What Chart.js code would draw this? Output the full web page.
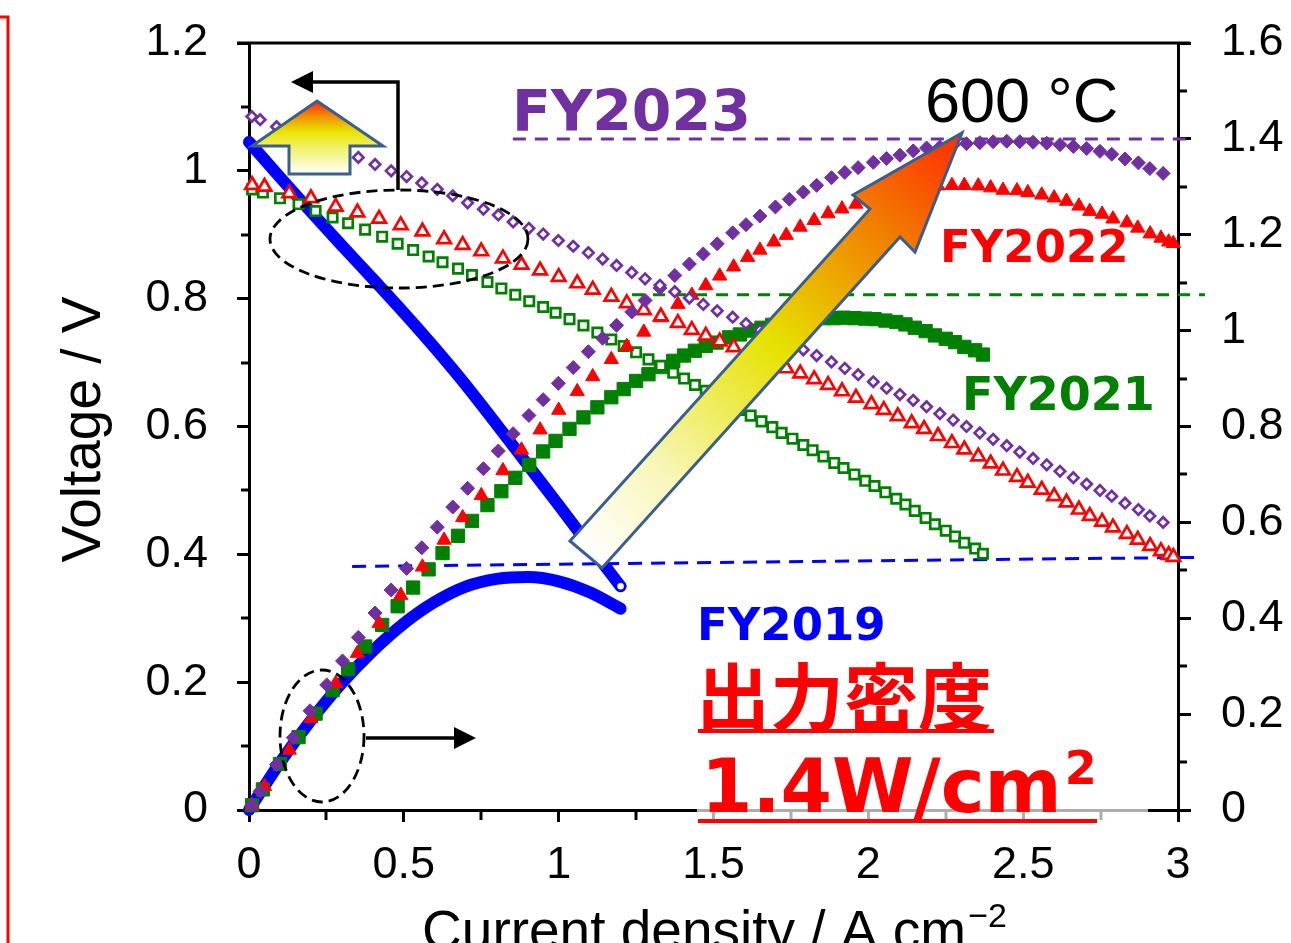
<!DOCTYPE html>
<html>
<head>
<meta charset="utf-8">
<script src="https://cdn.jsdelivr.net/npm/chart.js@4.4.1/dist/chart.umd.min.js"></script>
<style>
  body { margin: 0; background: #fff; }
  canvas { display: block; }
</style>
</head>
<body>
<canvas id="c" width="1291" height="943"></canvas>
<script>
// FY2019 (blue, drawn as thick lines)
const i19 = [0, 0.1, 0.2, 0.3, 0.4, 0.5, 0.6, 0.7, 0.8, 0.9, 1.0, 1.1, 1.2];
const v19 = [1.045, 0.99, 0.936, 0.883, 0.831, 0.778, 0.723, 0.665, 0.603, 0.54, 0.477, 0.413, 0.35];
const p19 = [0, 0.099, 0.187, 0.265, 0.332, 0.389, 0.434, 0.466, 0.482, 0.486, 0.477, 0.454, 0.42];

// FY2021 (green squares)
const i21 = [0.01,0.045,0.10,0.16,0.215,0.27,0.32,0.375,0.43,0.48,0.53,0.58,0.625,0.675,0.72,0.77,0.815,0.86,0.905,0.95,
  0.99,1.035,1.08,1.125,1.17,1.21,1.25,1.29,1.33,1.37,1.405,1.44,1.475,1.51,1.55,1.585,1.62,1.655,1.69,1.72,
  1.755,1.79,1.82,1.855,1.89,1.92,1.955,1.99,2.02,2.055,2.09,2.12,2.15,2.185,2.215,2.25,2.28,2.31,2.345,2.37];
const v21 = [0.971,0.966,0.957,0.948,0.937,0.927,0.918,0.908,0.897,0.886,0.876,0.866,0.857,0.847,0.837,0.826,0.816,0.806,0.796,0.787,
  0.778,0.768,0.758,0.747,0.736,0.726,0.716,0.705,0.695,0.684,0.675,0.665,0.656,0.646,0.636,0.626,0.617,0.608,0.599,0.590,
  0.581,0.571,0.563,0.553,0.543,0.535,0.525,0.515,0.507,0.497,0.487,0.478,0.468,0.457,0.447,0.437,0.428,0.418,0.409,0.401];
const p21 = [0.010,0.043,0.096,0.152,0.201,0.250,0.294,0.341,0.386,0.425,0.464,0.502,0.536,0.572,0.603,0.636,0.665,0.693,0.720,0.748,
  0.770,0.795,0.819,0.840,0.861,0.878,0.895,0.909,0.924,0.937,0.948,0.958,0.968,0.975,0.986,0.992,1.000,1.006,1.012,1.015,
  1.020,1.022,1.025,1.026,1.026,1.027,1.026,1.025,1.024,1.021,1.018,1.013,1.006,0.999,0.990,0.983,0.976,0.966,0.959,0.950];

// FY2022 (red triangles)
const i22 = [0.01,0.05,0.13,0.20,0.28,0.35,0.42,0.49,0.56,0.63,0.69,0.75,0.82,0.88,0.94,1.00,1.06,1.11,1.17,1.22,
  1.275,1.33,1.385,1.43,1.475,1.52,1.565,1.61,1.65,1.695,1.735,1.78,1.825,1.87,1.915,1.96,2.01,2.05,2.095,2.14,
  2.18,2.225,2.27,2.31,2.355,2.395,2.435,2.48,2.515,2.56,2.6,2.64,2.68,2.715,2.755,2.79,2.835,2.87,2.91,2.945,2.97,2.985];
const v22 = [0.978,0.975,0.965,0.957,0.944,0.935,0.925,0.915,0.905,0.893,0.884,0.874,0.863,0.853,0.844,0.834,0.824,0.814,0.803,0.793,
  0.782,0.772,0.762,0.751,0.742,0.733,0.724,0.716,0.708,0.699,0.691,0.683,0.674,0.665,0.655,0.645,0.635,0.626,0.616,0.605,
  0.596,0.585,0.574,0.564,0.553,0.542,0.531,0.521,0.512,0.501,0.491,0.481,0.470,0.460,0.451,0.442,0.432,0.423,0.413,0.405,0.399,0.396];
const p22 = [0.010,0.049,0.125,0.191,0.264,0.327,0.389,0.448,0.507,0.563,0.610,0.656,0.708,0.751,0.793,0.834,0.873,0.904,0.940,0.967,
  0.997,1.027,1.055,1.074,1.094,1.114,1.133,1.153,1.168,1.185,1.199,1.216,1.230,1.244,1.254,1.264,1.276,1.283,1.291,1.295,
  1.299,1.302,1.303,1.303,1.302,1.298,1.293,1.292,1.288,1.283,1.277,1.270,1.260,1.249,1.243,1.233,1.225,1.214,1.202,1.193,1.185,1.182];

// FY2023 (purple diamonds)
const i23 = [0.009,0.036,0.089,0.143,0.197,0.251,0.302,0.353,0.407,0.459,0.509,0.558,0.608,0.658,0.706,0.757,0.805,0.853,0.904,0.95,
  0.999,1.047,1.096,1.142,1.187,1.236,1.279,1.327,1.375,1.422,1.467,1.512,1.562,1.605,1.65,1.70,1.745,1.79,1.833,1.881,
  1.924,1.967,2.016,2.059,2.102,2.145,2.188,2.231,2.274,2.317,2.36,2.403,2.447,2.489,2.532,2.576,2.619,2.662,2.705,2.748,
  2.786,2.829,2.872,2.909,2.952];
const v23 = [1.085,1.080,1.069,1.059,1.049,1.039,1.030,1.021,1.010,1.000,0.991,0.981,0.971,0.961,0.950,0.940,0.931,0.920,0.910,0.901,
  0.891,0.882,0.872,0.862,0.852,0.841,0.831,0.821,0.811,0.801,0.791,0.781,0.771,0.761,0.751,0.740,0.730,0.720,0.711,0.701,
  0.691,0.681,0.670,0.660,0.650,0.641,0.631,0.620,0.610,0.600,0.590,0.580,0.570,0.560,0.550,0.540,0.530,0.520,0.510,0.500,
  0.491,0.480,0.470,0.460,0.450];
const p23 = [0.010,0.039,0.095,0.151,0.207,0.261,0.311,0.360,0.411,0.459,0.504,0.547,0.590,0.632,0.671,0.712,0.749,0.785,0.823,0.856,
  0.890,0.923,0.956,0.984,1.011,1.039,1.063,1.089,1.115,1.139,1.160,1.181,1.204,1.221,1.239,1.258,1.274,1.289,1.303,1.319,
  1.330,1.340,1.351,1.359,1.366,1.375,1.381,1.383,1.387,1.390,1.392,1.394,1.395,1.394,1.393,1.391,1.388,1.384,1.380,1.374,
  1.368,1.358,1.350,1.338,1.328];

// reference power levels marked with dashed lines [x from, x to, W/cm2 from, W/cm2 to]
const refLines = [
  { x: [0.852, 3.026], p: [1.40, 1.40], color: '#7030A0', dash: [13, 9] },
  { x: [1.237, 3.087], p: [1.075, 1.075], color: '#008000', dash: [12, 9] },
  { x: [0.333, 3.055], p: [0.508, 0.527], color: '#0000FF', dash: [14, 9] }
];

const xTicks = [0, 0.5, 1, 1.5, 2, 2.5, 3];

const PURPLE = '#7030A0', RED = '#FF0000', GREEN = '#008000', BLUE = '#0000FF';
const TICK_FONT = { family: "'Liberation Sans', Arial, sans-serif", size: 45 };

function pts(xs, ys) { return xs.map((x, i) => ({ x: x, y: ys[i] })); }
function fmt(v) { return String(+Number(v).toFixed(2)); }

function path(ctx, p) {
  ctx.beginPath();
  p.forEach((q, i) => i ? ctx.lineTo(q[0], q[1]) : ctx.moveTo(q[0], q[1]));
}
function strokeLine(ctx, p, w, color, dash) {
  ctx.save();
  ctx.lineWidth = w; ctx.strokeStyle = color; ctx.setLineDash(dash || []);
  path(ctx, p); ctx.stroke();
  ctx.restore();
}
function head(ctx, tipX, tipY, dir) {
  ctx.beginPath();
  ctx.moveTo(tipX, tipY);
  ctx.lineTo(tipX - dir * 22, tipY - 11);
  ctx.lineTo(tipX - dir * 22, tipY + 11);
  ctx.closePath();
  ctx.fillStyle = '#000'; ctx.fill();
}
function ellipse(ctx, cx, cy, rx, ry) {
  ctx.save();
  ctx.lineWidth = 2.8; ctx.strokeStyle = '#000'; ctx.setLineDash([11, 6]);
  ctx.beginPath(); ctx.ellipse(cx, cy, rx, ry, 0, 0, Math.PI * 2); ctx.stroke();
  ctx.restore();
}

const deco = {
  id: 'deco',
  beforeDatasetsDraw(c) {
    const ctx = c.ctx, xs = c.scales.x, ps = c.scales.y2;
    refLines.forEach(l => {
      strokeLine(ctx, [[xs.getPixelForValue(l.x[0]), ps.getPixelForValue(l.p[0])],
                       [xs.getPixelForValue(l.x[1]), ps.getPixelForValue(l.p[1])]], 3, l.color, l.dash);
    });
  },
  afterDatasetsDraw(c) {
    const ctx = c.ctx;
    // up block arrow
    ctx.save();
    let g = ctx.createLinearGradient(0, 101, 0, 174);
    g.addColorStop(0, '#ff2200'); g.addColorStop(0.2, '#f28a00');
    g.addColorStop(0.42, '#e8e400'); g.addColorStop(0.62, '#f0f060'); g.addColorStop(1, '#ffffff');
    path(ctx, [[317,101],[383,146],[350,146],[350,174],[289,174],[289,146],[252,146]]);
    ctx.closePath(); ctx.fillStyle = g; ctx.fill();
    ctx.lineWidth = 3; ctx.strokeStyle = '#3A5F8F'; ctx.lineJoin = 'miter'; ctx.stroke();
    // big diagonal arrow
    g = ctx.createLinearGradient(586, 554, 962, 133);
    g.addColorStop(0, '#ffffff'); g.addColorStop(0.2, '#f8f6b8'); g.addColorStop(0.5, '#e6e200');
    g.addColorStop(0.75, '#f08800'); g.addColorStop(1, '#ff2a00');
    path(ctx, [[570,541],[870,209],[853,195],[962,133],[915,252],[900,237],[602,568]]);
    ctx.closePath(); ctx.fillStyle = g; ctx.fill();
    ctx.stroke();
    ctx.restore();
    // elbow arrow to the voltage axis
    strokeLine(ctx, [[398,190],[398,82],[310,82]], 3.5, '#000');
    head(ctx, 291, 82, -1);
    ellipse(ctx, 399, 239, 129, 49);
    // lower ellipse and arrow to the power axis
    ellipse(ctx, 322, 736, 42, 66);
    strokeLine(ctx, [[366,738],[456,738]], 3.5, '#000');
    head(ctx, 476, 738, 1);
  },
  afterDraw(c) {
    const ctx = c.ctx, xs = c.scales.x, ys = c.scales.y, ps = c.scales.y2;
    const a = c.chartArea;
    ctx.save();
    ctx.strokeStyle = '#000'; ctx.lineWidth = 3;
    // minor ticks
    for (let v = 0.1; v < 1.2; v += 0.2) {
      const y = Math.round(ys.getPixelForValue(v));
      path(ctx, [[a.left - 8, y], [a.left, y]]); ctx.stroke();
    }
    for (let v = 0.1; v < 1.6; v += 0.2) {
      const y = Math.round(ps.getPixelForValue(v));
      path(ctx, [[a.right, y], [a.right + 9, y]]); ctx.stroke();
    }
    for (let v = 0.25; v < 3; v += 0.5) {
      const x = Math.round(xs.getPixelForValue(v));
      path(ctx, [[x, a.bottom], [x, a.bottom + 10]]); ctx.stroke();
    }
    // top frame
    path(ctx, [[a.left - 12, a.top], [a.right + 12, a.top]]); ctx.stroke();
    // translucent text box over the axis
    ctx.fillStyle = 'rgba(255,255,255,0.68)';
    ctx.fillRect(697, 795, 451, 36);

    // red frame edge on the far left
    ctx.strokeStyle = RED; ctx.lineWidth = 3;
    path(ctx, [[0, 17], [8, 17], [8, 943]]); ctx.stroke();

    // axis titles
    ctx.fillStyle = '#000';
    ctx.font = '55px "Liberation Sans", Arial, sans-serif';
    ctx.textBaseline = 'alphabetic'; ctx.textAlign = 'left';
    const t1 = 'Current density / A cm', t2 = '\u22122';
    const w1 = ctx.measureText(t1).width;
    ctx.font = '34px "Liberation Sans", Arial, sans-serif';
    const w2 = ctx.measureText(t2).width;
    const x0 = (a.left + a.right) / 2 - (w1 + w2) / 2;
    ctx.font = '55px "Liberation Sans", Arial, sans-serif';
    ctx.fillText(t1, x0, 949);
    ctx.font = '34px "Liberation Sans", Arial, sans-serif';
    ctx.fillText(t2, x0 + w1 + 2, 927);
    ctx.save();
    ctx.translate(100, (a.top + a.bottom) / 2 + 3);
    ctx.rotate(-Math.PI / 2);
    ctx.textAlign = 'center';
    ctx.font = '55px "Liberation Sans", Arial, sans-serif';
    ctx.fillText('Voltage / V', 0, 0);
    ctx.restore();

    // labels
    const bold = s => 'bold ' + s + 'px "DejaVu Sans", Verdana, sans-serif';
    ctx.textAlign = 'left';
    ctx.font = bold(57); ctx.fillStyle = PURPLE; ctx.fillText('FY2023', 512, 131);
    ctx.font = '63px "Liberation Sans", Arial, sans-serif'; ctx.fillStyle = '#000';
    ctx.fillText('600 \u00B0C', 925, 122);
    ctx.font = bold(45); ctx.fillStyle = RED; ctx.fillText('FY2022', 940, 262);
    ctx.font = bold(46); ctx.fillStyle = GREEN; ctx.fillText('FY2021', 962, 410);
    ctx.font = bold(45); ctx.fillStyle = BLUE; ctx.fillText('FY2019', 697, 640);

    ctx.fillStyle = RED;
    ctx.font = 'bold 74px "Noto Sans CJK JP", sans-serif';
    ctx.textBaseline = 'middle';
    ctx.fillText('出力密度', 696, 697);
    ctx.textBaseline = 'alphabetic';
    ctx.font = bold(74);
    ctx.fillText('1.4W/cm', 701, 812);
    const wc = ctx.measureText('1.4W/cm').width;
    ctx.font = bold(46);
    ctx.fillText('2', 701 + wc + 3, 784);
    ctx.strokeStyle = RED; ctx.lineWidth = 4;
    path(ctx, [[698, 731], [994, 731]]); ctx.stroke();
    path(ctx, [[698, 821], [1097, 821]]); ctx.stroke();
    ctx.restore();
  }
};

const open = (color, style, r) => ({
  pointStyle: style, pointRadius: r, pointBorderWidth: 2.7,
  pointBorderColor: color, pointBackgroundColor: '#fff', showLine: false, clip: false, yAxisID: 'y'
});
const solid = (color, style, r) => ({
  pointStyle: style, pointRadius: r, pointBorderWidth: 1,
  pointBorderColor: color, pointBackgroundColor: color, showLine: false, clip: false, yAxisID: 'y2'
});
// fixed axis widths so the plot area sits where it does in the original
const fitY = w => s => { s.width = w; s.paddingTop = 0; s.paddingBottom = 0; };

new Chart(document.getElementById('c'), {
  type: 'scatter',
  data: {
    datasets: [
      Object.assign({ label: 'FY2023 V', data: pts(i23, v23) }, open(PURPLE, 'rectRot', 5.2)),
      Object.assign({ label: 'FY2023 P', data: pts(i23, p23) }, solid(PURPLE, 'rectRot', 7)),
      Object.assign({ label: 'FY2022 V', data: pts(i22, v22) }, open(RED, 'triangle', 7.8)),
      Object.assign({ label: 'FY2022 P', data: pts(i22, p22) }, solid(RED, 'triangle', 8.2)),
      Object.assign({ label: 'FY2021 V', data: pts(i21, v21) }, open(GREEN, 'rect', 6.6)),
      Object.assign({ label: 'FY2021 P', data: pts(i21, p21) }, solid(GREEN, 'rect', 9.4)),
      {
        label: 'FY2019 V', data: pts(i19, v19), yAxisID: 'y', showLine: true, clip: false,
        borderColor: BLUE, borderWidth: 12, borderCapStyle: 'round', cubicInterpolationMode: 'monotone',
        pointRadius: i19.map((x, i) => i === i19.length - 1 ? 4.5 : 0),
        pointBackgroundColor: '#fff', pointBorderColor: BLUE, pointBorderWidth: 2.5
      },
      {
        label: 'FY2019 P', data: pts(i19, p19), yAxisID: 'y2', showLine: true, clip: false,
        borderColor: BLUE, borderWidth: 12, borderCapStyle: 'round', cubicInterpolationMode: 'monotone',
        pointRadius: 0
      }
    ]
  },
  options: {
    responsive: false,
    animation: false,
    layout: { padding: { top: 43, left: 0, right: 0, bottom: 0 } },
    plugins: { legend: { display: false }, tooltip: { enabled: false } },
    scales: {
      x: {
        type: 'linear', position: 'bottom', min: 0, max: 3,
        afterBuildTicks: s => { s.ticks = xTicks.map(v => ({ value: v })); },
        ticks: { font: TICK_FONT, color: '#000', padding: 17, maxRotation: 0, autoSkip: false, callback: fmt },
        grid: { drawOnChartArea: false, drawTicks: true, tickLength: 12, color: '#000', lineWidth: 3 },
        border: { display: true, color: '#000', width: 3 },
        afterFit: s => { s.height = 133; s.paddingLeft = 0; s.paddingRight = 0; }
      },
      y: {
        position: 'left', min: 0, max: 1.2,
        ticks: { stepSize: 0.2, font: TICK_FONT, color: '#000', padding: 29, callback: fmt },
        grid: { drawOnChartArea: false, drawTicks: true, tickLength: 12, color: '#000', lineWidth: 3 },
        border: { display: true, color: '#000', width: 3 },
        afterFit: fitY(249)
      },
      y2: {
        position: 'right', min: 0, max: 1.6,
        ticks: { stepSize: 0.2, font: TICK_FONT, color: '#000', padding: 30, callback: fmt },
        grid: { drawOnChartArea: false, drawTicks: true, tickLength: 13, color: '#000', lineWidth: 3 },
        border: { display: true, color: '#000', width: 3 },
        afterFit: fitY(113)
      }
    }
  },
  plugins: [deco]
});
</script>
</body>
</html>
